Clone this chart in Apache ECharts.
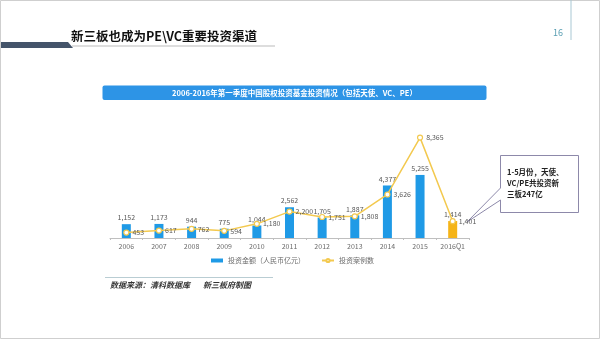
<!DOCTYPE html>
<html>
<head>
<meta charset="utf-8">
<script src="https://cdn.jsdelivr.net/npm/echarts@6/dist/echarts.min.js"></script>
<style>
html,body{margin:0;padding:0;background:#fff;}
#c{width:600px;height:339px;}
</style>
</head>
<body>
<div id="c"></div>
<script>
var categories = ['2006','2007','2008','2009','2010','2011','2012','2013','2014','2015','2016Q1'];
var amountValues = [1152,1173,944,775,1044,2562,1705,1887,4377,5255,1414];
var caseValues = [453,617,762,594,1180,2200,1751,1808,3626,8365,1401];
var seriesNames = ['投资金额（人民币亿元）','投资案例数'];
var headerTitle = '新三板也成为PE\\VC重要投资渠道';
var bannerTitle = '2006-2016年第一季度中国股权投资基金投资情况（包括天使、VC、PE）';
var calloutLines = ['1-5月份，天使、','VC/PE共投资新','三板247亿'];
var sourceText = '数据来源：清科数据库';
var makerText = '新三板府制图';
var pageNumber = '16';

var FONT = '"Noto Sans CJK SC","Noto Sans",sans-serif';
var BLUE = '#1f9ae6';
var ORANGE = '#f5b417';
var GOLD = '#f3c94f';

var barData = amountValues.map(function(v,i){
  if (i === amountValues.length-1) return {value:v,itemStyle:{color:ORANGE}};
  return v;
});
function fmt(v){ return String(v).replace(/\B(?=(\d{3})+(?!\d))/g, ','); }

var chart = echarts.init(document.getElementById('c'));
chart.setOption({
  animation:false,
  backgroundColor:'#fff',
  textStyle:{fontFamily:FONT},
  grid:{left:110,right:131,top:130,bottom:101},
  legend:{
    left:206, top:252, itemGap:16, itemWidth:12, itemHeight:4,
    textStyle:{fontSize:7,color:'#6b6b6b',fontFamily:FONT},
    data:[{name:seriesNames[0],icon:'rect'},{name:seriesNames[1]}]
  },
  xAxis:{
    type:'category', data:categories,
    axisLine:{lineStyle:{color:'#bfbfbf',width:1}},
    axisTick:{show:true,length:2,lineStyle:{color:'#bfbfbf'}},
    axisLabel:{fontSize:7,color:'#6b6b6b',margin:5,fontFamily:FONT}
  },
  yAxis:{type:'value',min:0,max:9000,show:false,splitLine:{show:false}},
  series:[
    {
      name:seriesNames[0], type:'bar', data:barData, barWidth:9,
      itemStyle:{color:BLUE},
      label:{show:true,position:'top',distance:3,fontSize:7,color:'#595959',fontFamily:FONT,
        formatter:function(p){return fmt(p.value);}}
    },
    {
      name:seriesNames[1], type:'line', data:caseValues,
      symbol:'circle', symbolSize:5,
      lineStyle:{color:GOLD,width:1.5},
      itemStyle:{color:'#fff',borderColor:GOLD,borderWidth:1.2},
      label:{show:true,position:'right',distance:3,fontSize:7,color:'#595959',fontFamily:FONT,
        formatter:function(p){return fmt(p.value);}},
      z:3
    }
  ],
  graphic:[
    {type:'rect',shape:{x:0.5,y:0.5,width:599,height:338},style:{fill:'none',stroke:'#cfcfcf',lineWidth:1},silent:true},
    {type:'polygon',shape:{points:[[1,42],[68,42],[73,48],[1,48]]},style:{fill:'#44546a'}},
    {type:'line',shape:{x1:72,y1:46,x2:275,y2:46},style:{stroke:'#bcbcbc',lineWidth:1.2}},
    {type:'text',left:71,top:30,style:{text:headerTitle,font:'bold 12.5px '+FONT,fill:'#111'}},
    {type:'text',left:553,top:28,style:{text:pageNumber,font:'9px '+FONT,fill:'#5a9fb3'}},
    {type:'line',shape:{x1:571,y1:0,x2:571,y2:40},style:{stroke:'#a9c8d4',lineWidth:1}},
    {type:'rect',shape:{x:102.5,y:85.5,width:384,height:14.5,r:2},style:{fill:'#2d94e6'}},
    {type:'text',x:294.5,y:93,style:{text:bannerTitle,font:'bold 7.5px '+FONT,fill:'#fff',align:'center',verticalAlign:'middle'}},
    {type:'polygon',shape:{points:[[500.5,155.5],[578.5,155.5],[578.5,212.5],[500.5,212.5],[500.5,200],[467,222],[500.5,188]]},
      style:{fill:'#fff',stroke:'#8d89aa',lineWidth:1}},
    {type:'text',x:507,y:167,style:{text:calloutLines.join('\n'),font:'bold 7.5px '+FONT,fill:'#222',lineHeight:11,verticalAlign:'top'}},
    {type:'line',shape:{x1:105,y1:277.5,x2:273,y2:277.5},style:{stroke:'#b9cdd3',lineWidth:1.2}},
    {type:'text',left:110,top:281,style:{text:sourceText,font:'italic bold 8px '+FONT,fill:'#333'}},
    {type:'text',left:203,top:281,style:{text:makerText,font:'italic bold 8px '+FONT,fill:'#333'}}
  ]
});
</script>
</body>
</html>
